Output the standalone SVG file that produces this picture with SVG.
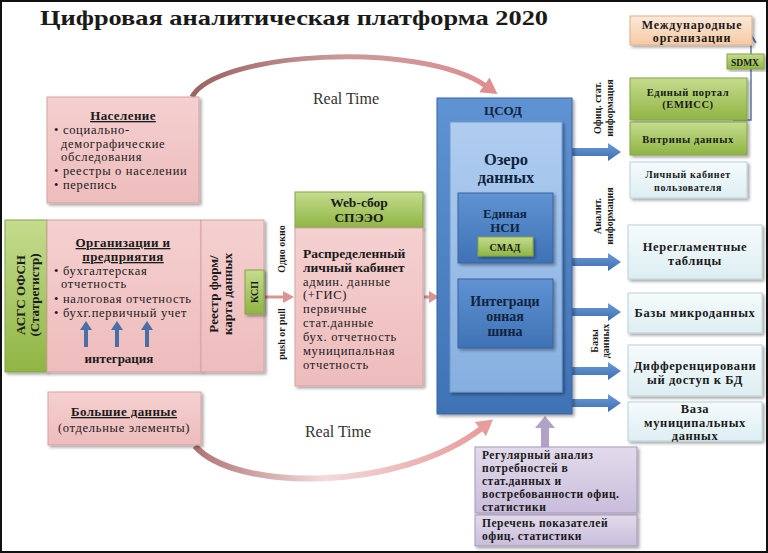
<svg xmlns="http://www.w3.org/2000/svg" width="768" height="553" viewBox="0 0 768 553">
<defs>
<style>
text{font-family:"Liberation Serif","DejaVu Serif",serif;fill:#1a1a1a}
.b{font-weight:bold}
.c{text-anchor:middle}
.body{font-size:12.5px;letter-spacing:0.7px}
.hd{font-size:13px;font-weight:bold;letter-spacing:0.4px}
.t10{font-size:10px}
.sm{font-size:10.5px;font-weight:bold;letter-spacing:0.6px}
.rt{font-size:12.5px;font-weight:bold;letter-spacing:0.6px}
.lv{font-size:11.5px;font-weight:bold;letter-spacing:0.5px}
.nv{fill:#0f243e;font-weight:bold}
.pink{fill:url(#gPink);stroke:#d7a3a3;stroke-width:1;filter:url(#sh)}
.green{fill:url(#gGreen);stroke:#86a34a;stroke-width:1;filter:url(#sh)}
.light{fill:url(#gLight);stroke:#b9d1d9;stroke-width:1;filter:url(#sh)}
.lav{fill:url(#gLav);stroke:#a797be;stroke-width:1;filter:url(#sh)}
.blue{fill:url(#gBlue);stroke:#3a64a0;stroke-width:1;filter:url(#sh)}
</style>
<filter id="sh" x="-10%" y="-10%" width="130%" height="130%"><feDropShadow dx="2" dy="2" stdDeviation="1.5" flood-color="#000" flood-opacity="0.35"/></filter>
<linearGradient id="gPink" x1="0" y1="0" x2="0" y2="1"><stop offset="0" stop-color="#f5d0d0"/><stop offset="1" stop-color="#eebcbc"/></linearGradient>
<linearGradient id="gGreen" x1="0" y1="0" x2="0" y2="1"><stop offset="0" stop-color="#c5dc8e"/><stop offset="1" stop-color="#8fb543"/></linearGradient>
<linearGradient id="gLight" x1="0" y1="0" x2="0" y2="1"><stop offset="0" stop-color="#f6fbfc"/><stop offset="1" stop-color="#ddeef3"/></linearGradient>
<linearGradient id="gLav" x1="0" y1="0" x2="0" y2="1"><stop offset="0" stop-color="#e2dbeb"/><stop offset="1" stop-color="#c9bddb"/></linearGradient>
<linearGradient id="gPeach" x1="0" y1="0" x2="0" y2="1"><stop offset="0" stop-color="#fde9d9"/><stop offset="1" stop-color="#f6caa4"/></linearGradient>
<linearGradient id="gBlue" x1="0" y1="0" x2="0" y2="1"><stop offset="0" stop-color="#5f93d3"/><stop offset="1" stop-color="#3f72b5"/></linearGradient>
<linearGradient id="gInner" x1="0" y1="0" x2="0" y2="1"><stop offset="0" stop-color="#b0cdf0"/><stop offset="1" stop-color="#86afe0"/></linearGradient>
<linearGradient id="gArr" x1="0" y1="0" x2="0" y2="1"><stop offset="0" stop-color="#6e9bd6"/><stop offset="1" stop-color="#3c6db0"/></linearGradient>
<linearGradient id="gTop" x1="0" y1="0" x2="1" y2="0"><stop offset="0" stop-color="#9b6262"/><stop offset="0.5" stop-color="#c99a9a"/><stop offset="1" stop-color="#de8f90"/></linearGradient>
<linearGradient id="gBot" x1="0" y1="0" x2="1" y2="0"><stop offset="0" stop-color="#b07474"/><stop offset="0.45" stop-color="#f2dada"/><stop offset="1" stop-color="#e89c9c"/></linearGradient>
<marker id="mTop" markerUnits="userSpaceOnUse" markerWidth="20" markerHeight="20" refX="2" refY="9" orient="auto"><path d="M0,0 L16,9 L0,18 Z" fill="#de8f90"/></marker>
<marker id="mBot" markerUnits="userSpaceOnUse" markerWidth="20" markerHeight="20" refX="2" refY="9" orient="auto"><path d="M0,0 L16,9 L0,18 Z" fill="#e89c9c"/></marker>
<path id="bigArr" d="M0,-4 H36 V-9 L49,0 L36,9 V4 H0 Z"/>
</defs>
<rect x="1" y="1" width="766" height="551" fill="#ffffff" stroke="#111" stroke-width="2"/>

<text id="title" x="40" y="25" class="b" style="font-size:22px" textLength="508" lengthAdjust="spacingAndGlyphs">Цифровая аналитическая платформа 2020</text>

<g id="connectors">
<path d="M192,97 C215,52 420,40 486,86" fill="none" stroke="url(#gTop)" stroke-width="5" marker-end="url(#mTop)"/>
<path d="M195,446 C235,492 400,492 482,428" fill="none" stroke="url(#gBot)" stroke-width="6" marker-end="url(#mBot)"/>
<path d="M265,297 H284" stroke="#d99594" stroke-width="3" fill="none"/><path d="M283,291 L294,297 L283,303 Z" fill="#d99594"/>
<path d="M424,297 H430" stroke="#d99594" stroke-width="3" fill="none"/><path d="M429,291 L439,297 L429,303 Z" fill="#d99594"/>
<g fill="url(#gArr)">
<use href="#bigArr" x="572" y="152"/>
<use href="#bigArr" x="572" y="262"/>
<use href="#bigArr" x="572" y="312"/>
<use href="#bigArr" x="572" y="371"/>
<use href="#bigArr" x="572" y="403"/>
</g>
<path d="M541,447 V428 H535 L545,416 L555,428 H549 V447 Z" fill="#b3a2c7"/>
<polyline points="733,120 751,120 751,42" fill="none" stroke="#5b7fa8" stroke-width="1.5"/>
<path d="M746,43 L751,35 L756,43" fill="none" stroke="#5b7fa8" stroke-width="2"/>
</g>

<text x="346" y="104" class="c" style="font-size:16px;fill:#333">Real Time</text>
<text x="338" y="437" class="c" style="font-size:16px;fill:#333">Real Time</text>

<g id="naselenie">
<rect x="47" y="97" width="152" height="106" class="pink"/>
<text x="123" y="120" class="c hd" text-decoration="underline">Население</text>
<text x="54" y="134" class="body">• социально-</text>
<text x="61" y="148" class="body">демографические</text>
<text x="61" y="161" class="body">обследования</text>
<text x="54" y="175" class="body">• реестры о населении</text>
<text x="54" y="189" class="body">• перепись</text>
</g>

<g id="asgs">
<rect x="5" y="220" width="42" height="152" class="green"/>
<text transform="translate(25,295) rotate(-90)" class="c b" style="font-size:13px">АСГС ОФСН</text>
<text transform="translate(39,295) rotate(-90)" class="c b" style="font-size:13px">(Статрегистр)</text>
</g>

<g id="org">
<rect x="47" y="220" width="154" height="152" class="pink"/>
<text x="123" y="247" class="c hd" text-decoration="underline">Организации и</text>
<text x="123" y="261" class="c hd" text-decoration="underline">предприятия</text>
<text x="54" y="275" class="body">• бухгалтерская</text>
<text x="61" y="288" class="body">отчетность</text>
<text x="54" y="303" class="body">• налоговая отчетность</text>
<text x="54" y="317" class="body">• бухг.первичный учет</text>
<g fill="#4a6fa8">
<path d="M84,347 V330 H80 L86,321 L92,330 H88 V347 Z"/>
<path d="M115,347 V330 H111 L117,321 L123,330 H119 V347 Z"/>
<path d="M145,347 V330 H141 L147,321 L153,330 H149 V347 Z"/>
</g>
<text x="119" y="363" class="c b" style="font-size:13px">интеграция</text>
</g>

<g id="reestr">
<rect x="201" y="220" width="63" height="152" class="pink"/>
<text transform="translate(218,294) rotate(-90)" class="c b" style="font-size:13px">Реестр форм/</text>
<text transform="translate(232,294) rotate(-90)" class="c b" style="font-size:13px">карта данных</text>
</g>
<g id="ksp">
<rect x="245" y="270" width="19" height="44" class="green"/>
<text transform="translate(258,292) rotate(-90)" class="c b t10">КСП</text>
</g>

<text transform="translate(285,249) rotate(-90)" class="c b t10">Одно окно</text>
<text transform="translate(285,334) rotate(-90)" class="c b t10">push or pull</text>

<g id="websbor">
<rect x="295" y="192" width="128" height="36" class="green"/>
<text x="359" y="207" class="c b" style="font-size:13.5px">Web-сбор</text>
<text x="359" y="222" class="c b" style="font-size:13.5px">СПЭЭО</text>
</g>
<g id="cabinet">
<rect x="295" y="228" width="128" height="158" class="pink"/>
<text x="303" y="258" class="b" style="font-size:13.5px">Распределенный</text>
<text x="303" y="272" class="b" style="font-size:13.5px">личный кабинет</text>
<text x="303" y="286" class="body">админ. данные</text>
<text x="303" y="299" class="body">(+ГИС)</text>
<text x="303" y="313" class="body">первичные</text>
<text x="303" y="327" class="body">стат.данные</text>
<text x="303" y="341" class="body">бух. отчетность</text>
<text x="303" y="355" class="body">муниципальная</text>
<text x="303" y="369" class="body">отчетность</text>
</g>

<g id="bigdata">
<rect x="48" y="392" width="153" height="53" class="pink"/>
<text x="124" y="416" class="c hd" text-decoration="underline">Большие данные</text>
<text x="124" y="432" class="c body">(отдельные элементы)</text>
</g>

<g id="csod">
<rect x="437" y="98" width="135" height="316" class="blue"/>
<text x="503" y="115" class="c nv" style="font-size:13px">ЦСОД</text>
<rect x="450" y="122" width="112" height="270" fill="url(#gInner)" stroke="#6f98cc" stroke-width="1" filter="url(#sh)"/>
<text x="506" y="165" class="c nv" style="font-size:16.5px">Озеро</text>
<text x="506" y="183" class="c nv" style="font-size:16.5px">данных</text>
</g>
<g id="nsi">
<rect x="458" y="193" width="95" height="70" class="blue"/>
<text x="505" y="218" class="c nv" style="font-size:13px">Единая</text>
<text x="505" y="232" class="c nv" style="font-size:13px">НСИ</text>
</g>
<g id="smad">
<rect x="478" y="237" width="55" height="19" class="green"/>
<text x="505" y="251" class="c b t10">СМАД</text>
</g>
<g id="shina">
<rect x="458" y="279" width="95" height="69" class="blue"/>
<text x="505" y="306" class="c nv" style="font-size:14px">Интеграци</text>
<text x="505" y="321" class="c nv" style="font-size:14px">онная</text>
<text x="505" y="336" class="c nv" style="font-size:14px">шина</text>
</g>

<text transform="translate(601,108) rotate(-90)" class="c b t10">Офиц. стат.</text>
<text transform="translate(613,108) rotate(-90)" class="c b t10">информация</text>
<text transform="translate(601,216) rotate(-90)" class="c b t10">Аналит.</text>
<text transform="translate(613,216) rotate(-90)" class="c b t10">информация</text>
<text transform="translate(598,341) rotate(-90)" class="c b t10">Базы</text>
<text transform="translate(609,341) rotate(-90)" class="c b t10">данных</text>

<g id="mezhdunar">
<rect x="630" y="16" width="122" height="29" fill="url(#gPeach)" stroke="#e0b08a" stroke-width="1" filter="url(#sh)"/>
<text x="692" y="29" class="c b" style="font-size:12px;letter-spacing:0.8px">Международные</text>
<text x="692" y="42" class="c b" style="font-size:12px;letter-spacing:0.8px">организации</text>
</g>
<g id="sdmx">
<rect x="727" y="54" width="37" height="15" class="green"/>
<text x="745" y="65.5" class="c b" style="font-size:9.5px">SDMX</text>
</g>
<g id="portal">
<rect x="630" y="78" width="117" height="42" class="green"/>
<text x="688" y="96" class="c sm">Единый портал</text>
<text x="688" y="108" class="c sm">(ЕМИСС)</text>
</g>
<g id="vitriny">
<rect x="630" y="122" width="117" height="33" class="green"/>
<text x="688" y="143" class="c sm">Витрины данных</text>
</g>
<g id="lk">
<rect x="630" y="162" width="117" height="36" class="light"/>
<text x="688" y="178" class="c sm" style="font-size:10px">Личный кабинет</text>
<text x="688" y="191" class="c sm" style="font-size:10px">пользователя</text>
</g>
<g id="nereg">
<rect x="628" y="225" width="134" height="54" class="light"/>
<text x="695" y="251" class="c rt">Нерегламентные</text>
<text x="695" y="265" class="c rt">таблицы</text>
</g>
<g id="mikro">
<rect x="628" y="293" width="134" height="40" class="light"/>
<text x="695" y="317" class="c rt">Базы микроданных</text>
</g>
<g id="diff">
<rect x="628" y="345" width="134" height="51" class="light"/>
<text x="695" y="370" class="c rt">Дифференцировани</text>
<text x="695" y="384" class="c rt">ый доступ к БД</text>
</g>
<g id="vaza">
<rect x="628" y="402" width="134" height="39" class="light"/>
<text x="695" y="413" class="c rt">Ваза</text>
<text x="695" y="427" class="c rt">муниципальных</text>
<text x="695" y="440" class="c rt">данных</text>
</g>

<g id="analiz">
<rect x="475" y="447" width="162" height="66" class="lav"/>
<text x="482" y="459" class="lv">Регулярный анализ</text>
<text x="482" y="472" class="lv">потребностей в</text>
<text x="482" y="485" class="lv">стат.данных и</text>
<text x="482" y="498" class="lv">востребованности офиц.</text>
<text x="482" y="511" class="lv">статистики</text>
</g>
<g id="perechen">
<rect x="475" y="515" width="162" height="31" class="lav"/>
<text x="482" y="527" class="lv">Перечень показателей</text>
<text x="482" y="540" class="lv">офиц. статистики</text>
</g>
</svg>
